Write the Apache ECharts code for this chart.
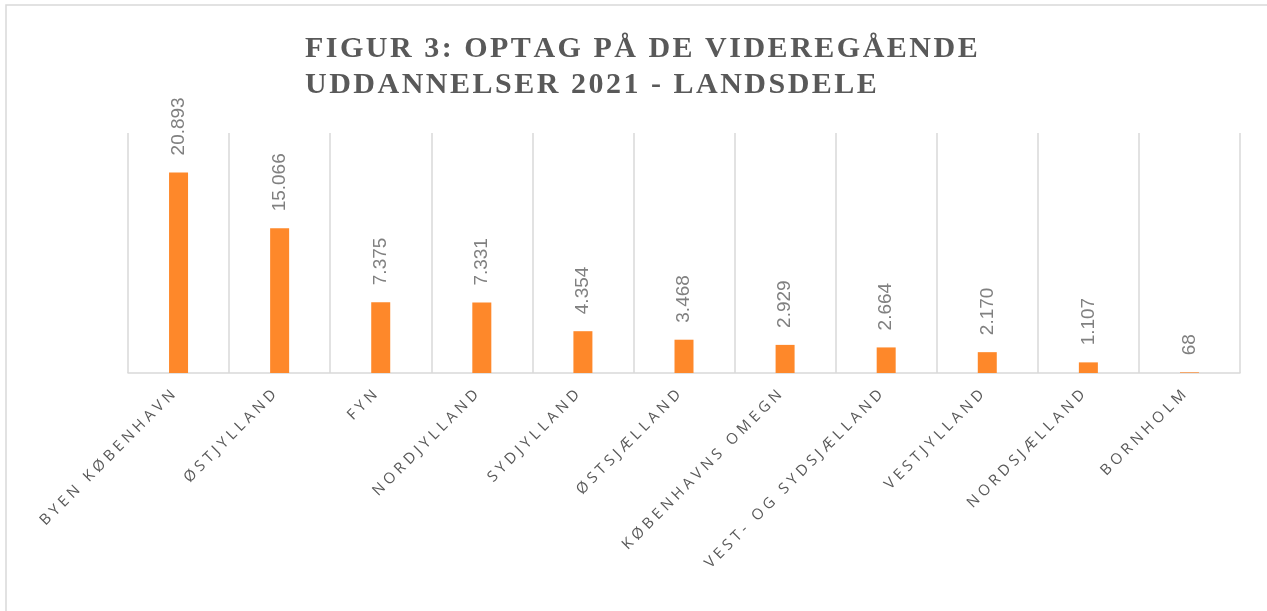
<!DOCTYPE html>
<html>
<head>
<meta charset="utf-8">
<script src="https://cdn.jsdelivr.net/npm/echarts@6/dist/echarts.min.js"></script>
<style>
	html, body { margin: 0; padding: 0; background: #fff; }
	#main { width: 1267px; height: 611px; }
</style>
</head>
<body>
<div id="main"></div>
<script>
var titleLines = ["FIGUR 3: OPTAG PÅ DE VIDEREGÅENDE", "UDDANNELSER 2021 - LANDSDELE"];

var regions = ["BYEN KØBENHAVN", "ØSTJYLLAND", "FYN", "NORDJYLLAND", "SYDJYLLAND", "ØSTSJÆLLAND",
	"KØBENHAVNS OMEGN", "VEST- OG SYDSJÆLLAND", "VESTJYLLAND", "NORDSJÆLLAND", "BORNHOLM"];

var optag = [20893, 15066, 7375, 7331, 4354, 3468, 2929, 2664, 2170, 1107, 68];

var yMin = 0;
var yMax = 25000;

// spread letters a bit, like the Excel chart
function spaced(text, gap) {
	return text.split("").join(gap);
}

// danish thousands separator
function formatNumber(n) {
	return String(n).replace(/\B(?=(\d{3})+(?!\d))/g, ".");
}

var myChart = echarts.init(document.getElementById('main'));

var option = {
	backgroundColor : '#ffffff',
	animation : false,
	title : {
		text : titleLines.map(function(line) { return spaced(line, "\u200A"); }).join("\n"),
		left : 300,
		top : 26,
		textStyle : {
			fontFamily : 'Liberation Serif',
			fontWeight : 'bold',
			fontSize : 30,
			lineHeight : 36,
			color : '#595959'
		}
	},
	graphic : [ {
		type : 'rect',
		shape : { x : 6, y : 5, width : 1300, height : 700 },
		style : { fill : null, stroke : '#d9d9d9', lineWidth : 1.5 },
		silent : true
	} ],
	grid : {
		left : 128,
		right : 27,
		top : 133,
		bottom : 238,
		containLabel : false
	},
	xAxis : {
		type : 'category',
		data : regions,
		axisLine : { lineStyle : { color : '#d9d9d9', width : 1.5 } },
		axisTick : { show : false },
		splitLine : { show : true, lineStyle : { color : '#d9d9d9', width : 1.5 } },
		axisLabel : {
			interval : 0,
			rotate : 45,
			margin : 14,
			padding : [0, 8, 0, 0],
			fontFamily : 'Open Sans',
			fontSize : 15,
			color : '#595959',
			formatter : function(value) {
				return spaced(value, "\u2009\u200A");
			}
		}
	},
	yAxis : {
		type : 'value',
		min : yMin,
		max : yMax,
		axisLine : { show : false },
		axisTick : { show : false },
		axisLabel : { show : false },
		splitLine : { show : false }
	},
	series : [ {
		type : 'bar',
		data : optag,
		barWidth : 19,
		itemStyle : { color : '#fe882a' },
		label : {
			show : true,
			position : 'top',
			rotate : 90,
			align : 'left',
			verticalAlign : 'middle',
			distance : 17,
			fontFamily : 'Liberation Sans',
			fontSize : 19,
			color : '#808080',
			formatter : function(p) {
				return formatNumber(p.value);
			}
		}
	} ]
};

myChart.setOption(option);
</script>
</body>
</html>
